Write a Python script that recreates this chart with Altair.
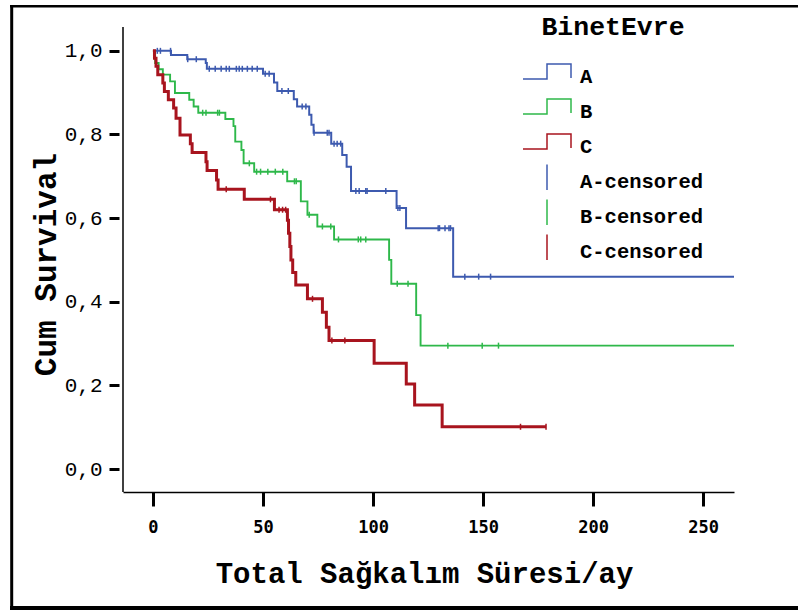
import altair as alt
import pandas as pd

# ---------------- data ----------------
groups = ["A", "B", "C"]
group_colors = ["#3d5aaf", "#2eb84a", "#a8141e"]
line_widths = [2.0, 1.9, 3.0]

A_event_t = [8.2, 15.6, 24.0, 24.5, 50.0, 55.0, 56.5, 64.0, 65.5, 71.0, 72.0, 73.0,
             81.0, 86.0, 88.0, 90.0, 110.7, 115.0, 136.4]
A_event_s = [0.990, 0.980, 0.971, 0.957, 0.945, 0.924, 0.904, 0.884, 0.867, 0.847, 0.823, 0.804,
             0.778, 0.751, 0.723, 0.665, 0.624, 0.576, 0.460]
A_end = 264.0
A_cens_t = [2.0, 3.4, 8.0, 15.8, 19.7, 25.6, 28.3, 31.0, 33.3, 34.7, 37.9, 39.2, 40.6, 42.9,
            45.1, 47.4, 51.0, 52.8, 58.6, 61.5, 67.8, 69.5, 73.2, 79.2, 80.0, 82.3, 83.7,
            85.3, 92.2, 93.7, 96.7, 97.3, 105.8, 111.3, 112.2, 129.6, 130.2, 132.7, 134.5,
            135.2, 141.7, 148.0, 153.4]

B_event_t = [1.0, 2.6, 4.5, 7.8, 10.0, 16.5, 18.5, 20.6, 32.9, 36.6, 37.4, 40.2, 41.2,
             46.0, 61.0, 67.2, 70.2, 74.7, 82.3, 107.3, 108.3, 119.6, 121.6]
B_event_s = [0.971, 0.956, 0.943, 0.927, 0.899, 0.883, 0.867, 0.852, 0.837, 0.820, 0.783, 0.763, 0.731,
             0.711, 0.688, 0.640, 0.608, 0.580, 0.549, 0.500, 0.443, 0.368, 0.295]
B_end = 264.0
B_cens_t = [22.6, 24.1, 29.4, 30.2, 43.8, 47.1, 48.9, 52.2, 55.6, 59.0, 64.3, 65.1, 71.0,
            77.0, 80.8, 84.3, 93.3, 94.4, 96.7, 111.0, 115.9, 134.0, 149.6, 157.0]

C_event_t = [0.7, 1.4, 2.2, 4.5, 5.2, 7.0, 9.4, 10.5, 12.3, 17.0, 17.8, 24.1, 24.6, 28.9,
             29.6, 41.5, 55.2, 61.1, 61.6, 62.2, 62.7, 63.5, 64.9, 70.2, 77.0, 78.8, 80.0,
             100.5, 115.1, 118.9, 131.4]
C_event_s = [0.982, 0.963, 0.943, 0.923, 0.903, 0.883, 0.863, 0.839, 0.799, 0.778, 0.757, 0.735,
             0.714, 0.691, 0.669, 0.645, 0.620, 0.595, 0.564, 0.532, 0.500, 0.470, 0.440, 0.407,
             0.375, 0.339, 0.307, 0.253, 0.203, 0.153, 0.101]
C_end = 178.6
C_cens_t = [33.3, 53.4, 57.3, 58.9, 60.3, 72.5, 81.3, 87.2, 167.0, 178.6]

x_ticks = [0, 50, 100, 150, 200, 250]
y_ticks = [0.0, 0.2, 0.4, 0.6, 0.8, 1.0]

x_title = "Total Sağkalım Süresi/ay"
y_title = "Cum Survival"
legend_title = "BinetEvre"

# ---------------- tables ----------------
series = {
    "A": (A_event_t, A_event_s, A_end, A_cens_t),
    "B": (B_event_t, B_event_s, B_end, B_cens_t),
    "C": (C_event_t, C_event_s, C_end, C_cens_t),
}

line_rows, cens_rows = [], []
for g in groups:
    et, es, end, ct = series[g]
    line_rows.append({"key": g, "t": 0.0, "s": 1.0, "o": 0})
    for i, (t, s) in enumerate(zip(et, es)):
        line_rows.append({"key": g, "t": t, "s": s, "o": i + 1})
    line_rows.append({"key": g, "t": end, "s": es[-1], "o": len(et) + 1})
    for t in ct:
        s = 1.0
        for tt, ss in zip(et, es):
            if tt <= t:
                s = ss
        cens_rows.append({"key": g + "-censored", "t": t, "s": s})

lines_df = pd.DataFrame(line_rows)
cens_df = pd.DataFrame(cens_rows)

keys = groups + [g + "-censored" for g in groups]
legend_df = pd.DataFrame({"key": keys})

color_scale = alt.Scale(domain=keys, range=group_colors + group_colors)
step_path = "M-1,0.083H0V-0.54H1V0.042"
cens_path = "M0,-0.79V0.33"
shape_scale = alt.Scale(domain=keys, range=[step_path] * 3 + [cens_path] * 3)

x_scale = alt.Scale(domain=[-13.6, 264], nice=False, zero=False)
y_scale = alt.Scale(domain=[-0.055, 1.057], nice=False, zero=False)

W, H = 611, 465
MONO = "Liberation Mono"

x_axis = alt.Axis(
    values=x_ticks, title=x_title, domain=True, domainColor="black", domainWidth=1.5,
    ticks=True, tickSize=14, tickWidth=3, tickColor="black", grid=False,
    labelFont="DejaVu Sans Mono", labelFontWeight="bold", labelFontSize=17, labelColor="black",
    labelPadding=13, titleFont=MONO, titleFontWeight="bold", titleFontSize=29, titleColor="black",
    titleX=301, titleY=90, titleBaseline="alphabetic", titleAnchor="middle",
    titleAlign="center",
)
y_axis = alt.Axis(
    values=y_ticks, title=y_title, domain=False, offset=4,
    ticks=True, tickSize=10, tickWidth=3, tickColor="black", grid=False,
    labelFont=MONO, labelFontSize=21, labelColor="black", labelPadding=7,
    labelExpr="replace(format(datum.value, '.1f'), '.', ',')",
    titleFont=MONO, titleFontWeight="bold", titleFontSize=31, titleColor="black",
    titleX=-64, titleY=237, titleAngle=270, titleBaseline="alphabetic", titleAlign="center",
)

leg = alt.Legend(
    title=legend_title, orient="none", legendX=399, legendY=-13, padding=0,
    titleFont=MONO, titleFontWeight="bold", titleFontSize=26.5, titleColor="black",
    titleAnchor="middle", titlePadding=19,
    labelFont=MONO, labelFontWeight="bold", labelFontSize=20.5, labelColor="black",
    labelOffset=8, symbolSize=2304, symbolStrokeWidth=1.5, symbolOpacity=1,
    symbolFillColor="transparent", rowPadding=0, clipHeight=35, labelLimit=300,
)

line_layers = []
for g, w in zip(groups, line_widths):
    line_layers.append(
        alt.Chart(lines_df).transform_filter(alt.datum.key == g)
        .mark_line(interpolate="step-after", strokeWidth=w)
        .encode(
            x=alt.X("t:Q", scale=x_scale, axis=x_axis),
            y=alt.Y("s:Q", scale=y_scale, axis=y_axis),
            color=alt.Color("key:N", scale=color_scale, legend=leg),
            order="o:Q",
        )
    )

cens = alt.Chart(cens_df).mark_point(shape="M0,-1V1", filled=False, size=36, strokeWidth=1.5, opacity=1).encode(
    x=alt.X("t:Q", scale=x_scale, axis=x_axis),
    y=alt.Y("s:Q", scale=y_scale, axis=y_axis),
    color=alt.Color("key:N", scale=color_scale, legend=leg),
)

legend_layer = alt.Chart(legend_df).mark_point(filled=False, opacity=0).encode(
    x=alt.value(0), y=alt.value(0),
    color=alt.Color("key:N", scale=color_scale, legend=leg),
    shape=alt.Shape("key:N", scale=shape_scale, legend=leg),
)

one = pd.DataFrame({"d": [0]})
y_line = alt.Chart(one).mark_rule(color="black", strokeWidth=1.5).encode(
    x=alt.value(0), y=alt.value(0), y2=alt.value(H))
border_left = alt.Chart(one).mark_rule(color="black", strokeWidth=3).encode(
    x=alt.value(-111.3), y=alt.value(-22), y2=alt.value(583))
border_top = alt.Chart(one).mark_rule(color="black", strokeWidth=2.4).encode(
    x=alt.value(-113), x2=alt.value(680), y=alt.value(-20.8))
border_bottom = alt.Chart(one).mark_rule(color="black", strokeWidth=4).encode(
    x=alt.value(-113), x2=alt.value(680), y=alt.value(581))

chart = alt.layer(
    y_line, *line_layers, cens, legend_layer, border_left, border_top, border_bottom
).properties(
    width=W, height=H,
    autosize=alt.AutoSizeParams(type="none"),
    padding={"left": 123, "top": 27, "right": 64, "bottom": 118},
    background="white",
).configure_view(stroke=None)

chart.save("out.html", embed_options={"renderer": "svg", "actions": False})
